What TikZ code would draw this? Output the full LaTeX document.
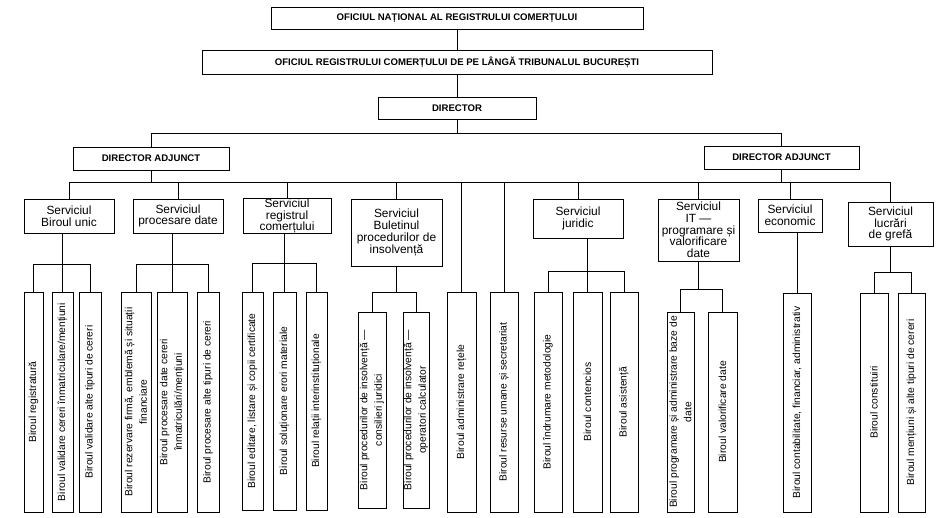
\documentclass[tikz,border=0pt]{standalone}
\usepackage{fontspec}
\setmainfont{Liberation Sans}

\begin{document}
\begin{tikzpicture}[x=1pt,y=-1pt,line width=0.9pt,
    head/.style={draw,inner sep=0pt,font=\bfseries\fontsize{9.6}{11}\selectfont},
    serv/.style={draw,inner sep=0pt,align=center,font=\fontsize{11.9}{11.7}\selectfont},
    birou/.style={draw,rotate=90,inner sep=0pt,align=center,minimum width=220,minimum height=28,font=\fontsize{10.3}{14.5}\selectfont}]
    \useasboundingbox (0,0) rectangle (939,518);

    % conducere
    \node[head,minimum width=372,minimum height=22] (onrc) at (457,18) {OFICIUL NAȚIONAL AL REGISTRULUI COMERȚULUI};
    \node[head,minimum width=510,minimum height=24] (orc) at (457,62) {OFICIUL REGISTRULUI COMERȚULUI DE PE LÂNGĂ TRIBUNALUL BUCUREȘTI};
    \node[head,minimum width=158,minimum height=22] (dir) at (457,108) {DIRECTOR};
    \node[head,minimum width=156,minimum height=23] (da1) at (151,158.5) {DIRECTOR ADJUNCT};
    \node[head,minimum width=155,minimum height=23] (da2) at (781.5,157.5) {DIRECTOR ADJUNCT};

    % servicii
    \node[serv,minimum width=90,minimum height=34] (s1) at (69,216) {Serviciul\\Biroul unic};
    \node[serv,minimum width=90,minimum height=34] (s2) at (178,216) {Serviciul\\procesare date};
    \node[serv,minimum width=88,minimum height=34] (s3) at (287,216) {Serviciul\\registrul\\comerțului};
    \node[serv,minimum width=91,minimum height=67] (s4) at (396.5,232.5) {Serviciul\\Buletinul\\procedurilor de\\insolvență};
    \node[serv,minimum width=90,minimum height=39] (s5) at (578,218.5) {Serviciul\\juridic};
    \node[serv,minimum width=81,minimum height=62] (s6) at (698.5,230) {Serviciul\\IT —\\programare și\\valorificare\\date};
    \node[serv,minimum width=64,minimum height=33] (s7) at (790,215.5) {Serviciul\\economic};
    \node[serv,minimum width=85,minimum height=44] (s8) at (890.5,224) {Serviciul\\lucrări\\de grefă};

    % birouri
    \node[birou,minimum height=19] (b11) at (33.5,402) {Biroul registratură};
    \node[birou,minimum height=21] (b12) at (62.5,402) {Biroul validare cereri înmatriculare/mențiuni};
    \node[birou,minimum height=22] (b13) at (90,402) {Biroul validare alte tipuri de cereri};
    \node[birou,minimum height=30] (b21) at (136,402) {Biroul rezervare firmă, emblemă și situații\\financiare};
    \node[birou,minimum height=30] (b22) at (172,402) {Biroul procesare date cereri\\înmatriculări/mențiuni};
    \node[birou,minimum height=22] (b23) at (208,402) {Biroul procesare alte tipuri de cereri};
    \node[birou,minimum width=218,minimum height=21] (b31) at (252.5,401) {Biroul editare, listare și copii certificate};
    \node[birou,minimum width=218,minimum height=23] (b32) at (284.5,401) {Biroul soluționare erori materiale};
    \node[birou,minimum width=218,minimum height=21] (b33) at (316.5,401) {Biroul relații interinstituționale};
    \node[birou,minimum width=196,minimum height=28] (b41) at (372,410) {Biroul procedurilor de insolvență —\\consilieri juridici};
    \node[birou,minimum width=196,minimum height=26] (b42) at (416,410) {Biroul procedurilor de insolvență —\\operatori calculator};
    \node[birou,minimum height=29] (b6) at (461.5,402) {Biroul administrare rețele};
    \node[birou,minimum height=28] (b7) at (504,402) {Biroul resurse umane și secretariat};
    \node[birou,minimum height=28] (b51) at (548,402) {Biroul îndrumare metodologie};
    \node[birou,minimum height=29] (b52) at (587.5,402) {Biroul contencios};
    \node[birou,minimum height=28] (b53) at (624,402) {Biroul asistență};
    \node[birou,minimum width=200,minimum height=27] (b81) at (680.5,412) {Biroul programare și administrare baze de\\date};
    \node[birou,minimum width=200,minimum height=29] (b82) at (722.5,412) {Biroul valorificare date};
    \node[birou,minimum width=219,minimum height=28] (b9) at (797,402.5) {Biroul contabilitate, financiar, administrativ};
    \node[birou,minimum width=219,minimum height=28] (b101) at (874,402.5) {Biroul constituiri};
    \node[birou,minimum width=219,minimum height=27] (b102) at (911.5,402.5) {Biroul mențiuni și alte tipuri de cereri};

    \draw (onrc) -- (orc);
    \draw (orc) -- (dir);
    \draw (dir.south) -- ++(0,14) coordinate (busD);
    \draw (da1.north) |- (busD) -| (da2.north);
    \draw (s1.north) -- ++(0,-16) coordinate (busL) -- (busL -| s8.north) -- (s8.north);
    \draw (da1.south) -- (da1.south |- busL);
    \draw (da2.south) -- (da2.south |- busL);
    \foreach \s in {s2,s3,s4,s5,s6,s7}
        \draw (\s.north) -- (\s.north |- busL);
    \draw (b6.east) -- (b6.east |- busL);
    \draw (b7.east) -- (b7.east |- busL);

    \draw (b11.east) -- ++(0,-27) coordinate (j1) -| (b13.east);
    \draw (s1.south -| b12.east) -- (b12.east);
    \draw (b21.east) -- ++(0,-27) coordinate (j2) -| (b23.east);
    \draw (s2.south -| b22.east) -- (b22.east);
    \draw (b31.east) -- ++(0,-28) coordinate (j3) -| (b33.east);
    \draw (s3.south -| b32.east) -- (b32.east);
    \draw (b41.east) -- ++(0,-19) coordinate (j4) -| (b42.east);
    \draw (s4.south) -- (s4.south |- j4);
    \draw (b51.east) -- ++(0,-20) coordinate (j5) -| (b53.east);
    \draw (s5.south -| b52.east) -- (b52.east);
    \draw (b81.east) -- ++(0,-22) coordinate (j6) -| (b82.east);
    \draw (s6.south) -- (s6.south |- j6);
    \draw (s7.south -| b9.east) -- (b9.east);
    \draw (b101.east) -- ++(0,-20) coordinate (j8) -| (b102.east);
    \draw (s8.south) -- (s8.south |- j8);
\end{tikzpicture}
\end{document}
